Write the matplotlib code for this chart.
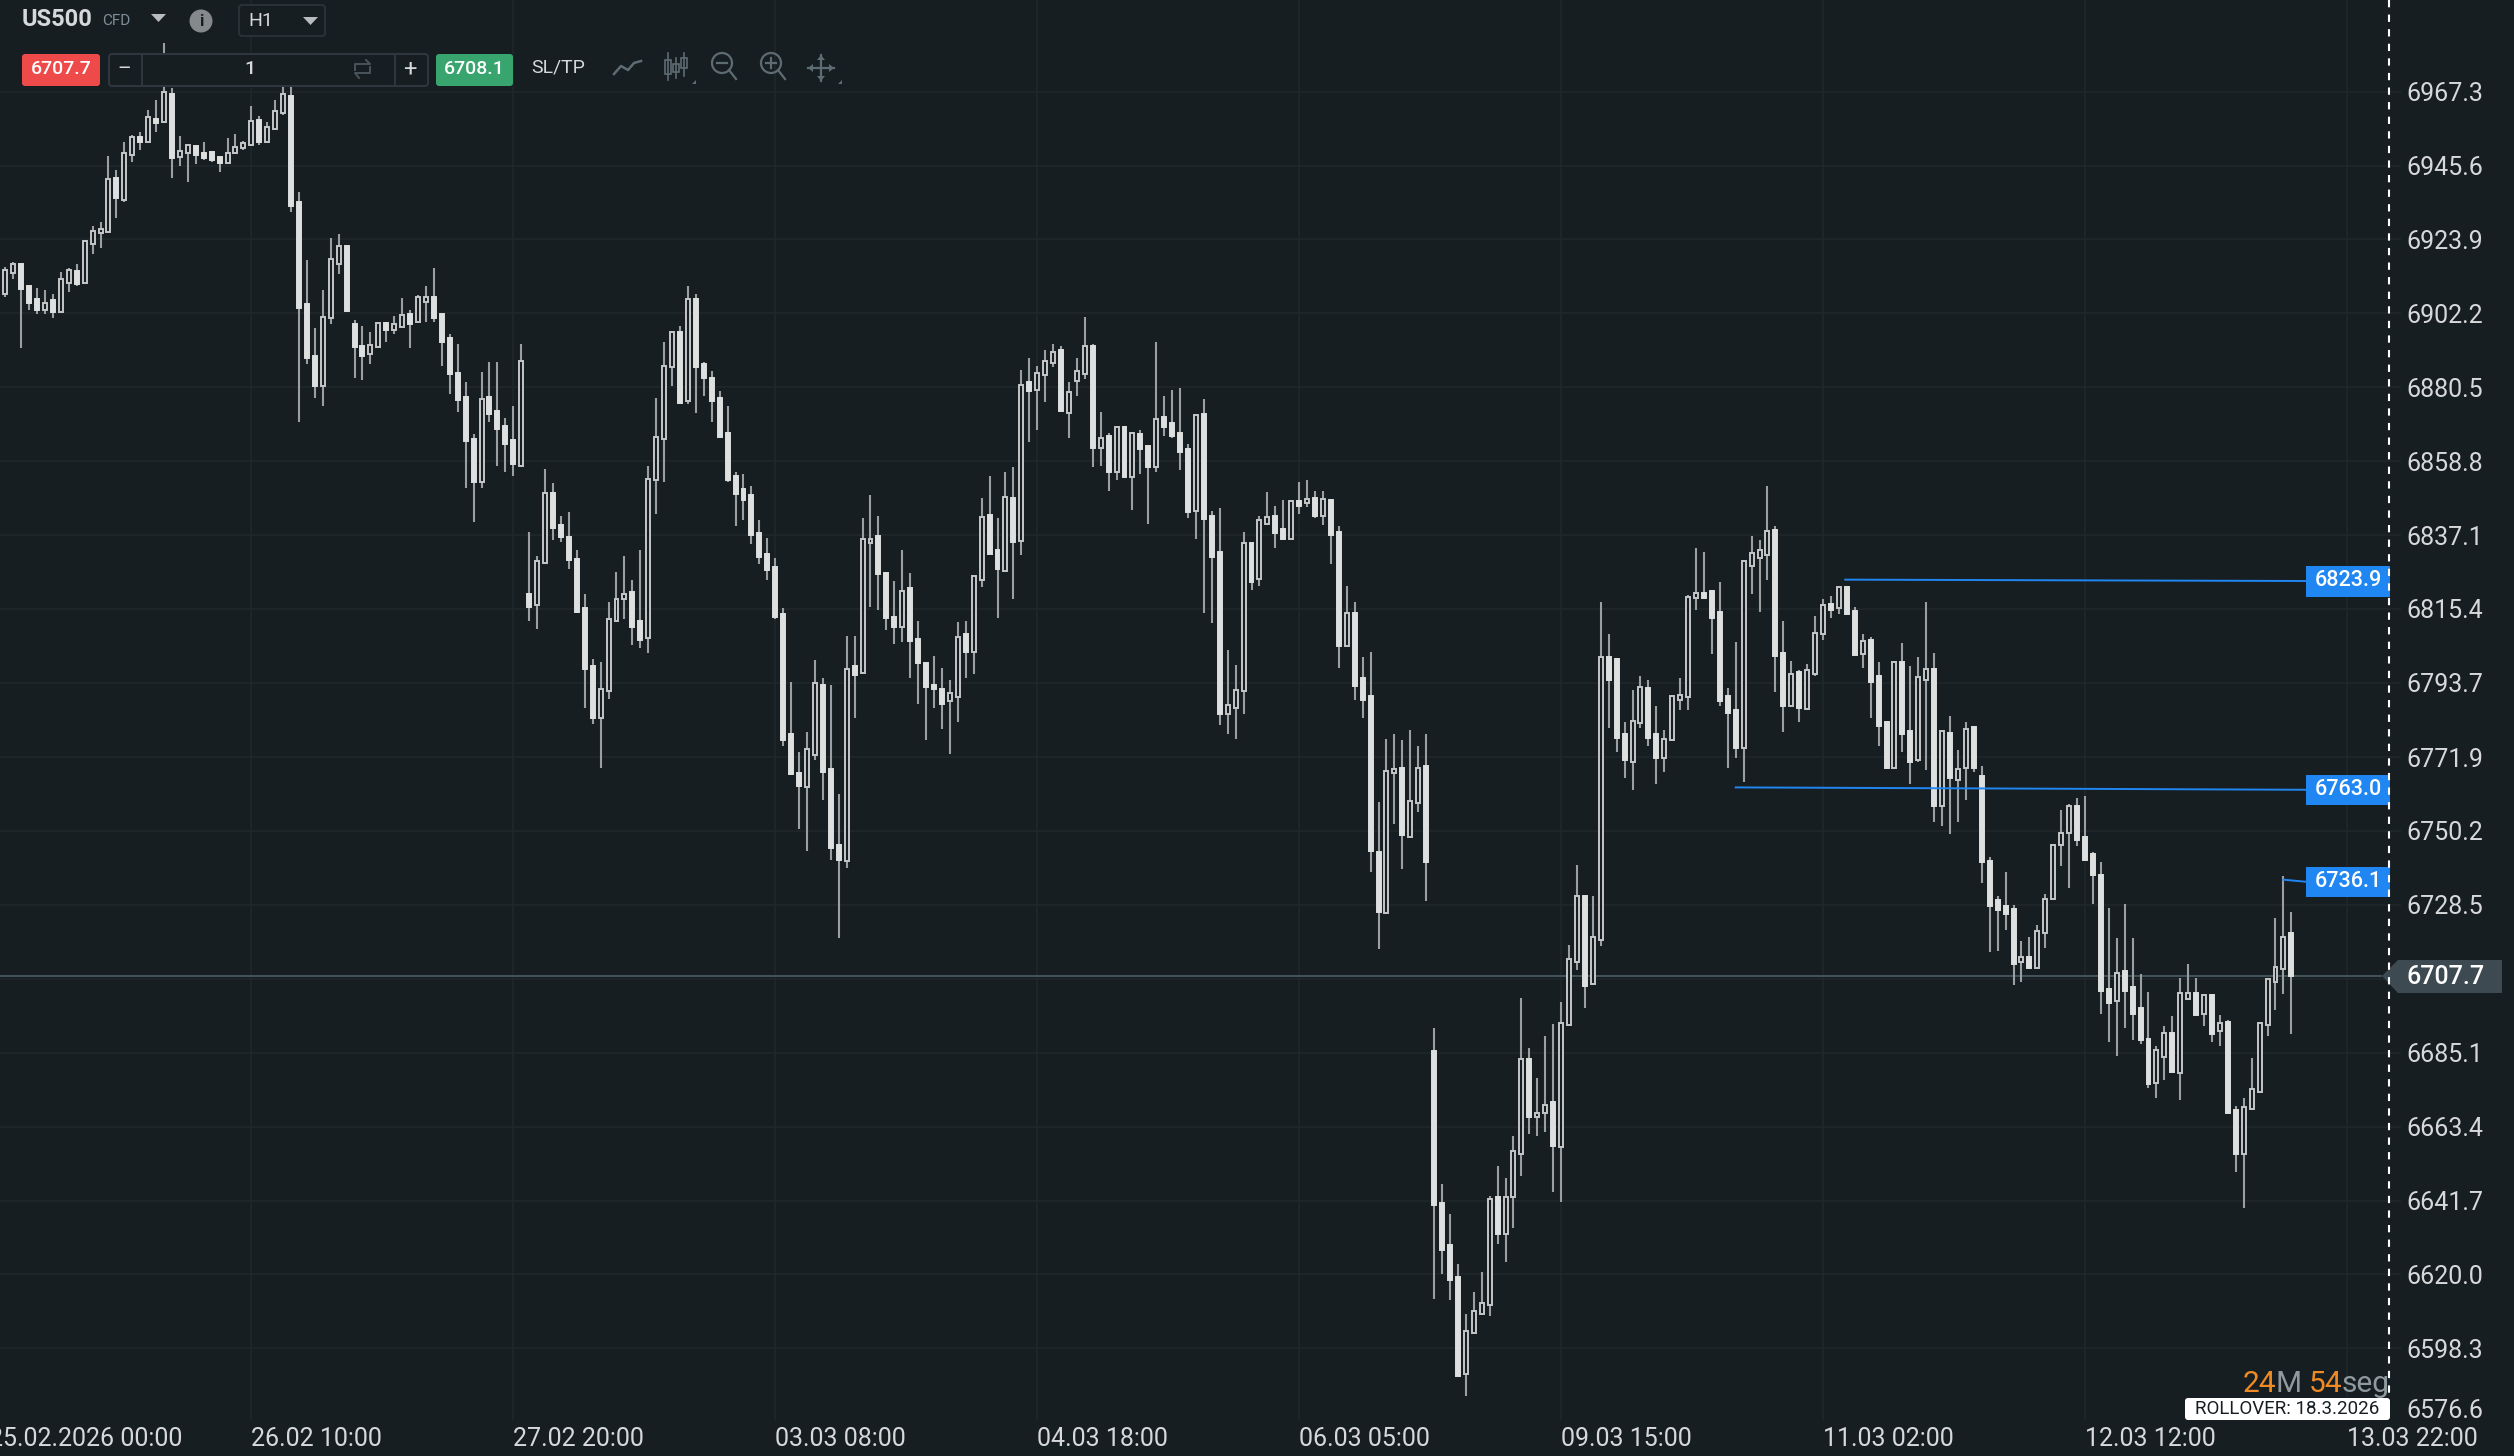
import numpy as np
import matplotlib
matplotlib.use('Agg')
import matplotlib.pyplot as plt
from matplotlib.patches import Rectangle, FancyBboxPatch, Polygon, Circle

plt.rcParams['font.family'] = ['Roboto', 'DejaVu Sans']

# candle data, one value per hour bar, bar 1 is the first one visible
highs = [
    6911.0,6915.7,6917.2,6916.7,6910.2,6909.5,6909.0,6907.8,6914.4,6915.4,
    6916.7,6923.7,6927.8,6929.0,6948.4,6944.3,6952.5,6954.7,6955.4,6961.9,
    6964.8,6981.5,6968.5,6954.3,6951.6,6951.6,6952.5,6949.9,6948.2,6953.7,
    6954.8,6952.9,6963.1,6960.1,6958.4,6964.8,6973.6,6974.0,6937.8,6917.8,
    6897.9,6909.0,6924.3,6925.5,6921.9,6900.2,6898.4,6896.7,6899.6,6899.6,
    6901.4,6906.7,6903.1,6907.7,6910.2,6915.5,6902.0,6896.1,6893.2,6882.0,
    6866.7,6884.9,6887.9,6887.9,6871.4,6874.9,6893.2,6838.0,6830.9,6856.6,
    6852.5,6842.6,6843.9,6832.7,6819.7,6800.8,6799.8,6817.4,6826.3,6830.9,
    6823.8,6832.7,6857.4,6877.2,6893.8,6897.1,6898.4,6910.1,6907.8,6887.9,
    6885.4,6879.5,6874.9,6855.6,6855.1,6851.5,6841.6,6836.2,6830.4,6815.6,
    6794.0,6773.3,6779.2,6800.3,6795.2,6793.2,6761.1,6807.5,6807.5,6842.1,
    6849.0,6842.6,6826.3,6823.7,6832.7,6826.0,6812.0,6799.6,6801.6,6798.0,
    6794.5,6811.5,6812.0,6825.3,6847.9,6854.3,6842.1,6855.5,6857.2,6885.7,
    6889.1,6886.6,6891.3,6893.2,6892.5,6882.0,6889.1,6901.0,6893.2,6873.2,
    6867.2,6869.1,6869.1,6867.4,6867.9,6863.5,6893.9,6877.9,6879.6,6880.3,
    6863.7,6872.5,6876.9,6844.3,6845.0,6803.4,6798.8,6837.9,6834.9,6842.6,
    6849.6,6845.5,6847.4,6847.4,6852.8,6853.3,6850.1,6850.1,6847.7,6839.7,
    6822.1,6817.3,6801.4,6802.7,6758.6,6777.3,6778.6,6776.9,6779.8,6775.2,
    6778.6,6692.3,6646.5,6637.7,6623.0,6608.3,6614.8,6620.7,6643.0,6651.8,
    6648.3,6660.6,6701.1,6686.4,6677.6,6690.0,6693.5,6699.9,6716.8,6740.3,
    6731.4,6731.0,6817.5,6807.9,6801.0,6782.3,6791.6,6795.7,6794.5,6786.8,
    6779.9,6790.2,6795.0,6819.6,6833.3,6832.1,6821.1,6823.2,6792.1,6805.7,
    6829.7,6836.7,6835.5,6851.5,6839.8,6812.0,6800.2,6797.4,6799.3,6813.2,
    6818.4,6819.2,6822.0,6822.0,6816.0,6807.9,6807.2,6799.8,6782.5,6800.0,
    6805.5,6798.6,6801.4,6817.5,6802.6,6779.6,6783.9,6773.9,6782.3,6781.1,
    6769.3,6742.7,6731.0,6738.2,6728.6,6718.0,6719.2,6722.6,6731.7,6746.3,
    6756.3,6758.1,6759.8,6760.5,6744.0,6741.1,6727.6,6718.8,6728.7,6718.8,
    6708.2,6702.9,6687.1,6692.9,6695.9,6707.0,6711.1,6707.0,6702.3,6702.3,
    6696.3,6694.7,6669.4,6671.8,6683.5,6694.1,6707.0,6724.6,6737.0,6726.4,
]
body_tops = [
    6909.5,6914.9,6916.7,6916.7,6910.2,6906.5,6905.3,6906.1,6912.4,6914.9,
    6914.7,6923.5,6926.4,6927.1,6941.7,6941.8,6949.4,6954.1,6954.1,6959.9,
    6959.4,6967.3,6966.6,6949.9,6951.5,6951.3,6949.4,6949.5,6948.2,6949.4,
    6951.1,6952.3,6958.8,6958.9,6957.0,6961.7,6966.6,6966.0,6934.9,6904.9,
    6889.6,6901.2,6918.2,6921.9,6921.9,6899.0,6892.6,6893.0,6899.4,6899.4,
    6899.2,6901.8,6902.0,6907.1,6907.1,6907.1,6902.0,6894.9,6884.7,6877.7,
    6865.4,6877.1,6877.7,6873.6,6869.1,6865.0,6888.3,6819.7,6829.6,6849.5,
    6849.5,6840.0,6836.6,6830.2,6815.6,6798.7,6791.9,6812.5,6818.4,6819.7,
    6820.4,6812.0,6853.5,6866.0,6886.6,6896.6,6896.6,6906.5,6906.5,6887.2,
    6883.1,6877.2,6867.2,6854.3,6850.7,6849.0,6837.8,6831.4,6827.8,6813.8,
    6778.7,6767.2,6774.4,6793.7,6793.2,6768.5,6746.1,6797.8,6798.6,6836.0,
    6836.0,6836.7,6826.0,6813.1,6820.7,6821.5,6806.7,6799.6,6793.2,6791.9,
    6790.6,6807.2,6808.0,6825.0,6842.3,6843.1,6832.7,6848.4,6847.9,6881.3,
    6882.0,6884.8,6888.3,6890.8,6891.5,6879.1,6885.4,6892.5,6892.7,6865.5,
    6866.2,6868.9,6868.9,6867.2,6866.7,6863.3,6871.3,6871.8,6870.1,6867.2,
    6862.5,6872.4,6872.5,6842.6,6832.1,6787.3,6791.5,6834.8,6834.8,6841.4,
    6842.3,6842.6,6838.9,6847.2,6847.2,6847.7,6847.9,6847.7,6847.4,6838.0,
    6814.3,6814.3,6795.1,6789.8,6744.0,6767.9,6768.3,6768.6,6759.1,6768.6,
    6769.3,6685.7,6641.0,6628.7,6619.3,6603.5,6609.3,6611.7,6642.2,6642.8,
    6642.8,6656.3,6683.3,6683.3,6667.5,6669.8,6670.6,6693.9,6712.7,6731.0,
    6731.2,6719.2,6801.4,6801.4,6800.8,6778.7,6782.5,6792.6,6792.1,6778.7,
    6777.2,6789.7,6790.2,6819.0,6820.1,6820.1,6820.8,6814.4,6789.7,6785.6,
    6829.5,6831.9,6832.6,6838.3,6838.6,6802.6,6796.2,6796.9,6797.4,6808.4,
    6816.5,6816.8,6821.8,6821.9,6814.9,6806.0,6806.2,6795.7,6782.3,6799.8,
    6799.8,6779.6,6795.4,6797.8,6797.8,6779.5,6779.1,6768.4,6780.1,6780.6,
    6766.2,6741.5,6729.8,6728.1,6727.4,6713.2,6713.2,6720.9,6730.2,6746.1,
    6749.7,6757.5,6757.5,6748.5,6743.4,6737.4,6703.9,6708.6,6709.2,6704.5,
    6698.2,6689.2,6685.9,6691.0,6691.0,6702.7,6702.5,6702.7,6702.1,6702.1,
    6693.7,6694.1,6668.3,6669.2,6674.5,6693.9,6706.8,6710.4,6719.2,6720.3,
]
body_bots = [
    6907.1,6908.0,6913.9,6909.2,6905.1,6903.2,6903.2,6902.7,6902.7,6911.0,
    6910.8,6911.0,6922.7,6925.7,6926.2,6936.2,6935.5,6948.6,6952.6,6952.6,
    6958.0,6958.5,6947.9,6948.0,6949.2,6948.6,6947.8,6947.2,6946.2,6946.2,
    6949.2,6950.7,6951.5,6952.5,6952.5,6956.2,6960.9,6933.7,6903.7,6889.2,
    6880.8,6881.0,6900.8,6916.7,6902.9,6892.2,6889.6,6890.4,6892.2,6897.3,
    6897.3,6898.1,6899.2,6899.6,6905.5,6900.8,6893.8,6884.5,6876.7,6864.6,
    6852.6,6852.8,6872.6,6868.1,6863.8,6857.9,6857.3,6815.9,6816.5,6828.8,
    6839.3,6836.5,6829.9,6814.6,6797.8,6783.5,6783.5,6791.2,6811.8,6818.2,
    6810.0,6806.4,6807.0,6853.3,6865.3,6886.4,6875.9,6876.5,6886.4,6883.3,
    6876.5,6866.0,6853.3,6849.2,6847.4,6837.0,6830.6,6826.8,6813.1,6776.9,
    6767.0,6763.4,6763.2,6772.6,6767.5,6745.3,6741.8,6741.3,6796.0,6796.5,
    6834.7,6825.8,6812.8,6810.0,6810.0,6805.9,6799.6,6792.4,6791.9,6787.6,
    6788.4,6789.4,6802.9,6802.9,6824.0,6831.6,6827.1,6826.5,6835.0,6835.3,
    6879.3,6879.8,6884.0,6887.6,6873.5,6872.8,6882.2,6884.4,6862.8,6862.8,
    6855.7,6855.7,6854.0,6854.0,6862.3,6857.0,6857.0,6868.9,6866.2,6861.6,
    6844.0,6844.3,6841.8,6830.6,6784.6,6784.6,6786.4,6791.2,6823.3,6824.1,
    6840.4,6837.7,6835.8,6835.8,6845.7,6846.5,6842.8,6842.8,6837.0,6804.6,
    6804.6,6792.9,6788.8,6744.2,6726.5,6726.0,6767.1,6748.9,6748.4,6758.4,
    6741.1,6640.3,6627.3,6618.5,6590.3,6590.9,6602.7,6608.5,6610.9,6632.0,
    6632.0,6642.8,6655.5,6666.1,6666.1,6667.3,6657.7,6657.3,6693.1,6711.8,
    6704.6,6705.3,6718.3,6794.5,6777.5,6771.0,6770.5,6781.8,6777.5,6771.5,
    6771.7,6777.0,6788.7,6789.4,6818.7,6818.7,6812.7,6788.5,6784.7,6774.6,
    6774.6,6828.0,6830.4,6831.1,6801.7,6786.8,6786.8,6786.3,6786.1,6796.2,
    6808.1,6815.1,6815.8,6813.9,6801.9,6802.1,6794.0,6781.1,6768.6,6768.7,
    6778.7,6770.5,6771.0,6794.5,6757.6,6757.6,6765.7,6765.2,6768.8,6768.6,
    6741.0,6728.3,6727.1,6725.9,6711.1,6711.8,6709.9,6710.1,6720.2,6730.2,
    6746.0,6749.5,6747.7,6741.7,6737.2,6703.1,6699.6,6700.2,6703.1,6696.6,
    6688.8,6675.9,6676.1,6683.7,6679.4,6679.0,6701.0,6696.3,6696.6,6690.6,
    6691.4,6667.3,6655.5,6655.5,6668.5,6673.6,6693.1,6706.0,6709.6,6707.7,
]
lows = [
    6903.2,6906.9,6912.2,6892.1,6903.2,6902.0,6902.0,6900.7,6902.7,6908.4,
    6910.2,6911.0,6919.6,6921.4,6926.2,6930.2,6935.0,6946.6,6950.1,6952.6,
    6955.4,6958.0,6941.9,6945.4,6940.8,6946.0,6947.2,6946.6,6943.7,6946.2,
    6949.0,6950.3,6951.5,6951.5,6952.1,6956.2,6960.5,6931.9,6870.3,6887.3,
    6877.3,6874.9,6899.0,6913.7,6902.7,6883.2,6882.6,6887.3,6892.2,6893.7,
    6896.1,6898.1,6892.0,6899.6,6899.6,6899.6,6886.7,6878.5,6873.2,6850.9,
    6840.9,6850.9,6870.3,6857.3,6855.6,6854.4,6857.3,6811.8,6809.5,6828.8,
    6835.7,6835.2,6827.1,6814.1,6786.3,6781.7,6768.8,6789.1,6811.8,6812.3,
    6804.7,6803.9,6802.4,6843.4,6852.8,6881.0,6875.9,6875.7,6872.9,6878.0,
    6870.3,6865.8,6852.8,6839.8,6841.6,6834.4,6828.6,6824.0,6812.3,6775.1,
    6766.5,6750.7,6744.3,6771.0,6759.3,6741.8,6718.9,6739.2,6783.5,6796.5,
    6815.9,6815.1,6809.2,6805.2,6805.7,6795.2,6787.6,6776.9,6786.3,6780.0,
    6772.8,6782.2,6795.2,6796.2,6821.7,6831.6,6812.8,6826.5,6818.2,6831.1,
    6864.5,6867.9,6876.2,6886.4,6873.5,6865.7,6877.9,6883.0,6857.0,6857.4,
    6849.9,6853.3,6854.0,6844.5,6855.0,6840.4,6855.7,6866.2,6865.7,6856.2,
    6842.1,6835.8,6814.1,6811.2,6781.2,6778.8,6777.1,6784.6,6820.9,6822.1,
    6840.4,6833.3,6835.8,6835.8,6843.3,6845.3,6842.1,6839.9,6828.7,6798.0,
    6804.6,6788.8,6783.4,6738.2,6715.5,6726.0,6752.3,6738.9,6748.4,6755.9,
    6729.6,6612.7,6620.1,6612.5,6590.3,6584.3,6602.7,6608.5,6607.8,6628.9,
    6623.6,6633.6,6648.9,6661.2,6660.6,6661.8,6644.2,6641.2,6693.1,6709.4,
    6698.1,6705.3,6716.3,6780.3,6773.4,6765.7,6762.1,6780.3,6775.1,6763.9,
    6767.4,6777.0,6785.6,6785.6,6815.1,6818.7,6802.1,6786.8,6768.6,6771.5,
    6764.5,6819.9,6814.6,6823.9,6791.1,6779.4,6786.8,6782.3,6786.1,6795.7,
    6806.2,6812.7,6813.9,6813.9,6801.9,6798.1,6783.5,6775.1,6768.4,6768.7,
    6773.4,6763.9,6770.5,6768.1,6752.8,6751.6,6749.2,6752.8,6759.2,6767.4,
    6735.0,6714.7,6715.1,6721.1,6705.1,6705.8,6709.6,6710.1,6715.9,6730.2,
    6739.9,6733.4,6745.8,6741.7,6728.7,6696.4,6688.2,6684.1,6692.3,6688.8,
    6687.6,6674.7,6671.8,6677.1,6679.4,6671.2,6701.0,6696.3,6692.9,6688.2,
    6687.1,6667.3,6650.1,6639.5,6668.5,6673.2,6690.0,6697.6,6702.3,6690.6,
]
# H = up bar (hollow), F = down bar (filled)
candle_dir = (
    "FHHFFFHFHH" "FHHHHFHHFH" "FHFHHFFFFH" "HHHFHHHFFF" "FHHHFFFHHF"
    "HHFHHFFFFF" "FHFFFFHFHH" "FFFFFFHHHH" "FFHHHHFHFF" "FFFFFFFFFF"
    "FFHHFFFHFH" "HFFFHFFFFF" "HHFHHFFHFH" "FHHHFHHHFH" "FHFHFFHFFF"
    "FHFFFHHHFH" "HFFHFHFHFF" "HFFFFHHFHH" "FFFFFHHHHF" "HHHFHHFHHH"
    "FHHFFFHHFF" "HHHHHFFFFF" "HHHHFFHFHH" "HFHFFHFFFH" "FFHHFHFHHF"
    "FFFFFHFHHH" "HHFFFFFHFF" "FFHHFHHFHF" "HFFHHHHHHF"
)

price_ticks = [6967.3, 6945.6, 6923.9, 6902.2, 6880.5, 6858.8, 6837.1, 6815.4, 6793.7,
               6771.9, 6750.2, 6728.5, 6706.8, 6685.1, 6663.4, 6641.7, 6620.0, 6598.3]
price_tick_labels = ['6967.3', '6945.6', '6923.9', '6902.2', '6880.5', '6858.8', '6837.1', '6815.4', '6793.7',
                     '6771.9', '6750.2', '6728.5', '', '6685.1', '6663.4', '6641.7', '6620.0', '6598.3']
date_ticks = [33, 66, 99, 132, 165, 198, 231, 264, 297]
date_labels = ['26.02 10:00', '27.02 20:00', '03.03 08:00', '04.03 18:00', '06.03 05:00',
               '09.03 15:00', '11.03 02:00', '12.03 12:00', '13.03 22:00']

bid = 6707.7
ask = 6708.1

# trend lines: bar start, bar end, price start, price end
line_x = [[233.8, 291.8], [220.0, 291.8], [289.0, 291.8]]
line_y = [[6824.0, 6823.6], [6763.0, 6762.3], [6735.9, 6735.3]]

BG = '#171e22'
GRID = '#20272b'
TEXT = '#d6d8d9'
BLUE = '#2086f2'
ICON = '#5d6b73'
W, H = 2514, 1456

fig = plt.figure(figsize=(W / 100, H / 100), dpi=100, facecolor=BG)

# main chart, axes ends at the dashed line
ax = fig.add_axes([0, (H - 1420) / H, 2389 / W, 1420 / H], facecolor=BG)
ax.set_xlim(1.335, 302.3)
ax.set_ylim(6577.25, 6994.2)
for s in ax.spines.values():
    s.set_visible(False)

ax.yaxis.tick_right()
ax.set_yticks(price_ticks)
ax.set_yticklabels(price_tick_labels)
ax.set_xticks(date_ticks)
ax.set_xticklabels(date_labels, ha='left')
ax.tick_params(axis='y', length=8.6, width=1.2, color=GRID, pad=4, labelcolor=TEXT, labelsize=18)
ax.tick_params(axis='x', length=0, pad=5, labelcolor=TEXT, labelsize=18)
ax.grid(True, color=GRID, lw=1.2)
ax.set_axisbelow(True)
# first date sits left of the window
ax.annotate('25.02.2026 00:00', xy=(0, 0), xycoords=ax.get_xaxis_transform(), xytext=(0, -5),
            textcoords='offset points', ha='left', va='top', color=TEXT, fontsize=18, annotation_clip=False)

bars = np.arange(1, len(highs) + 1)
hollow = np.array([c == 'H' for c in candle_dir])
tops = np.array(body_tops)
bots = np.array(body_bots)

ax.hlines(bid, 1.335, 301.4, color='#45535b', lw=1.4, zorder=2)
ax.vlines(bars, lows, highs, color='#9c9fa1', lw=1.5, zorder=3)
ax.bar(bars, tops - bots, bottom=bots, width=0.5,
       color=[BG if h else '#dedfdf' for h in hollow],
       edgecolor=['#c4c6c7' if h else '#dedfdf' for h in hollow],
       linewidth=1.4, zorder=4)
for xs, ys in zip(line_x, line_y):
    ax.plot(xs, ys, color=BLUE, lw=1.4, zorder=5)

# overlay in pixel coordinates for the terminal widgets
ui = fig.add_axes([0, 0, 1, 1], facecolor='none', zorder=10)
ui.set_xlim(0, W)
ui.set_ylim(H, 0)
ui.axis('off')


def box(x0, y0, x1, y1, fc, ec='none', lw=0, r=3):
    ui.add_patch(FancyBboxPatch((x0 + r, y0 + r), x1 - x0 - 2 * r, y1 - y0 - 2 * r,
                                boxstyle=f'round,pad={r},rounding_size={r}', fc=fc, ec=ec, lw=lw,
                                mutation_aspect=1))


# labels of the trend lines
for y0, y1, txt in [(566, 597, '6823.9'), (775, 805, '6763.0'), (867, 897, '6736.1')]:
    ui.add_patch(Rectangle((2306, y0), 84, y1 - y0, fc=BLUE, ec='none'))
    ui.text(2348, (y0 + y1) / 2 - 0.5, txt, color='white', fontsize=15.5, ha='center', va='center', fontweight='medium')

# dashed line and last price flag
ui.plot([2389, 2389], [0, 1398], color='white', lw=1.5, ls=(0, (3.5, 3.5)))
ui.add_patch(Polygon([(2382, 976), (2398, 960), (2502, 960), (2502, 993), (2398, 993)], closed=True, fc='#3d4a52', ec='none'))
ui.text(2406.5, 976.5, f'{bid}', color='white', fontsize=18, ha='left', va='center', fontweight='medium')
ui.text(2406.5, 1411.5, '6576.6', color=TEXT, fontsize=18, ha='left', va='center')

# countdown and rollover
for x, s, c in [(2243, '24', '#f08a24'), (2276, 'M', '#8f9a9f'), (2309, '54', '#f08a24'), (2342, 'seg', '#8f9a9f')]:
    ui.text(x, 1392, s, color=c, fontsize=21.5, ha='left', va='baseline')
box(2185, 1398, 2390, 1420, 'white', r=3)
ui.text(2287.5, 1409.5, 'ROLLOVER: 18.3.2026', color=BG, fontsize=13.5, ha='center', va='center')

# top bar, first row
ui.text(22, 19.5, 'US500', color=TEXT, fontsize=17, fontweight='bold', ha='left', va='center')
ui.text(102, 21, 'CFD', color='#7f8f99', fontsize=11, ha='left', va='center')
ui.add_patch(Polygon([(151, 14), (166, 14), (158.5, 22)], fc='#b9bcbe', ec='none'))
ui.add_patch(Circle((201, 21), 11.5, fc='#85898b', ec='none'))
ui.text(201, 21, 'i', color=BG, fontsize=12, fontweight='bold', ha='center', va='center')
box(239, 5, 325, 36, BG, ec='#2a3238', lw=1.4, r=3)
ui.text(248, 21, 'H1', color=TEXT, fontsize=14, ha='left', va='center')
ui.add_patch(Polygon([(303, 17), (318, 17), (310.5, 25)], fc='#b9bcbe', ec='none'))

# second row
box(22, 54, 100, 86, '#ef4a4a')
ui.text(61, 69.5, f'{bid}', color='white', fontsize=14, fontweight='medium', ha='center', va='center')
box(109, 54, 428, 86, BG, ec='#2f383e', lw=1.4)
ui.plot([141.5, 141.5], [54, 86], color='#2f383e', lw=1.4)
ui.plot([395, 395], [54, 86], color='#2f383e', lw=1.4)
ui.text(124, 69, '–', color=TEXT, fontsize=15, ha='center', va='center')
ui.text(250, 69.5, '1', color=TEXT, fontsize=14, fontweight='medium', ha='center', va='center')
ui.text(410, 69, '+', color=TEXT, fontsize=17, ha='center', va='center')
# swap icon
ui.plot([355, 355, 370, 366], [70, 64, 64, 60], color='#4a555b', lw=1.4)
ui.plot([370, 370, 355, 359], [67, 73, 73, 78], color='#4a555b', lw=1.4)
box(436, 54, 513, 86, '#38a56e')
ui.text(474.5, 69.5, f'{ask}', color='white', fontsize=14, fontweight='medium', ha='center', va='center')
ui.text(531, 68, 'SL/TP', color=TEXT, fontsize=14, ha='left', va='center')

# tool icons
ui.plot([614, 621, 628, 634, 641], [74, 66, 70, 63, 61], color=ICON, lw=1.8)
for cx, y0, y1, w0, w1 in [(668, 53, 80, 60, 74), (676, 58, 78, 64, 72), (684, 53, 76, 58, 68)]:
    ui.plot([cx, cx], [y0, y1], color=ICON, lw=1.2)
    ui.add_patch(Rectangle((cx - 3, w0), 6, w1 - w0, fc=BG, ec=ICON, lw=1.2))
for cx, plus in [(722, False), (771, True)]:
    ui.add_patch(Circle((cx, 63), 10, fc='none', ec=ICON, lw=1.6))
    ui.plot([cx + 7, cx + 14], [70, 79], color=ICON, lw=1.6)
    ui.plot([cx - 5, cx + 5], [63, 63], color=ICON, lw=1.6)
    if plus:
        ui.plot([cx, cx], [58, 68], color=ICON, lw=1.6)
ui.plot([808, 834], [68, 68], color=ICON, lw=1.6)
ui.plot([821, 821], [55, 81], color=ICON, lw=1.6)
for tri in [[(808, 68), (813, 64), (813, 72)], [(834, 68), (829, 64), (829, 72)],
            [(821, 55), (817, 60), (825, 60)], [(821, 81), (817, 76), (825, 76)],
            [(692, 84), (696, 84), (696, 80)], [(838, 84), (842, 84), (842, 80)]]:
    ui.add_patch(Polygon(tri, fc=ICON, ec='none'))

fig.savefig('out.png', dpi=100, facecolor=BG)
